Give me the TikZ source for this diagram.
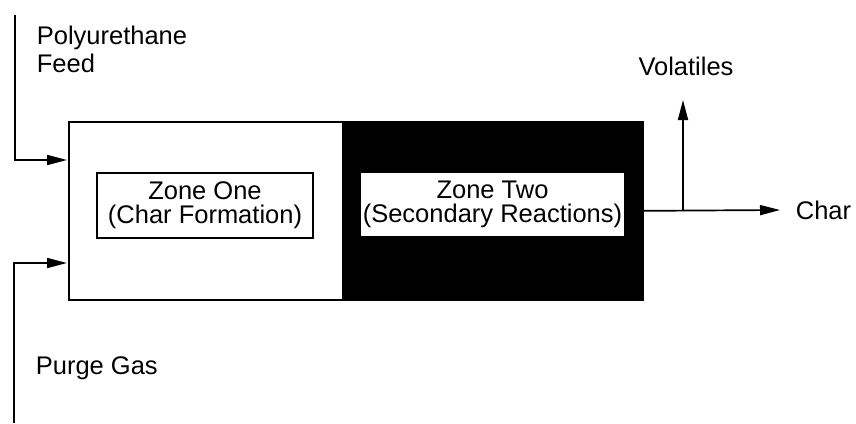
\documentclass[tikz,border=0pt]{standalone}
\usepackage{fontspec}
\setmainfont{Liberation Sans}
\usetikzlibrary{arrows.meta}
\begin{document}
\begin{tikzpicture}[x=1pt,y=-1pt, line width=1.7pt,
  flow/.style={-{Triangle[length=20pt,width=10pt]}},
  lbl/.style={font=\fontsize{25.5}{28}\selectfont, inner sep=0pt},
  zonebox/.style={draw, fill=white, line width=1.3pt, align=center,
    font=\fontsize{25.5}{24}\selectfont, inner sep=0pt}]
\useasboundingbox (0,0) rectangle (856,423);
% reactor zones
\node[draw, fill=white, anchor=north west, minimum width=274pt, minimum height=178pt, inner sep=0pt] (z1) at (68,121) {};
\node[draw, fill=black, anchor=north west, minimum width=300pt, minimum height=178pt, inner sep=0pt] (z2) at (342,121) {};
\node[zonebox, minimum width=216pt, minimum height=65pt] (one) at (205,205.5) {Zone One\\(Char Formation)};
\node[zonebox, minimum width=265pt, minimum height=65pt] (two) at (492.5,204.5) {Zone Two\\(Secondary Reactions)};
% labels
\node[lbl, anchor=north west, align=left] (feed) at (36,25) {Polyurethane\\Feed};
\node[lbl, anchor=base west] (purge) at (35,374) {Purge Gas};
\node[lbl, anchor=base] (vol) at (686,75) {Volatiles};
\node[lbl, anchor=base west] (char) at (795,219) {Char};
% connector points
\coordinate (feedtop) at (15,15);
\coordinate (feedin) at (67,160);
\coordinate (purgebot) at (14,423);
\coordinate (purgein) at (67,263);
\coordinate (split) at (683,210);
\coordinate (voltop) at (683,100);
\coordinate (charend) at (780,210);
% connectors
\draw[flow] (feedtop) |- (feedin);
\draw[flow] (purgebot) |- (purgein);
\draw[flow] (z2.east) -- (charend);
\draw[flow] (split) -- (voltop);
\end{tikzpicture}
\end{document}
